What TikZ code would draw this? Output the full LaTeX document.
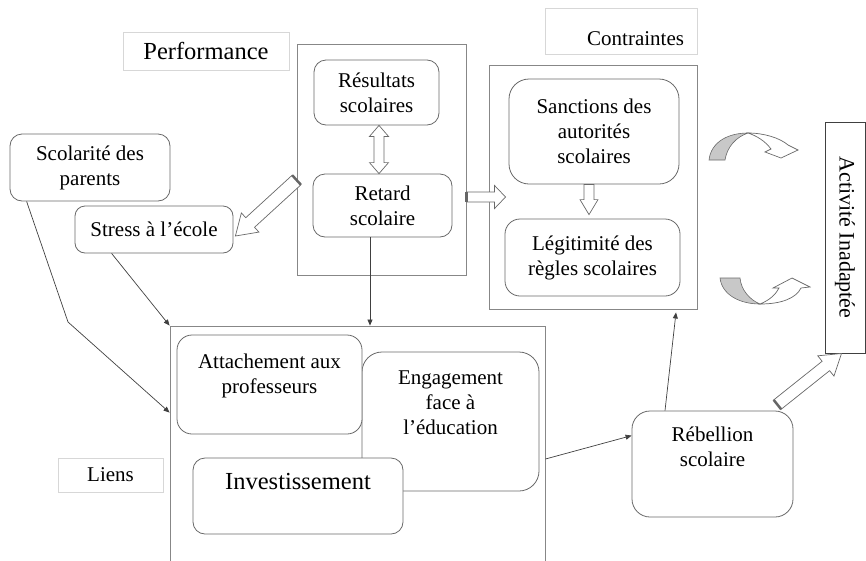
\documentclass[tikz,border=0pt]{standalone}
\usepackage{fontspec}
\setmainfont{Liberation Serif}
\usetikzlibrary{arrows.meta,calc}
\definecolor{linegray}{RGB}{105,105,105}
\definecolor{framegray}{RGB}{135,135,135}
\definecolor{labelgray}{RGB}{215,215,215}
\definecolor{shadegray}{RGB}{200,200,200}

\begin{document}
\begin{tikzpicture}[x=1pt,y=1pt,
    box/.style={draw=linegray,line width=0.8pt,rounded corners=12pt,fill=white,align=center,inner sep=0pt,font=\mainsize},
    frame/.style={draw=framegray,line width=0.9pt,inner sep=0pt},
    tag/.style={draw=labelgray,line width=0.6pt,inner sep=0pt,font=\mainsize},
    toplabel/.style={anchor=north,inner sep=0pt,align=center,font=\mainsize},
    conn/.style={draw=black!75,line width=0.7pt,-{Triangle[length=6pt,width=5pt]}},
    hollow/.style={draw=linegray,fill=white,line width=0.7pt},
    tailband/.style={draw=black!60,line width=2.5pt},
    curvefill/.style={draw=linegray,fill=shadegray,line width=0.6pt}]
    \providecommand{\mainsize}{\fontsize{21pt}{25pt}\selectfont}
    \providecommand{\bigsize}{\fontsize{24.5pt}{29pt}\selectfont}
    % start, end, shaft half width, head half width, head length, tail band
    \providecommand{\hollowarrow}[6]{%
      \path (#1) coordinate (ha-s) (#2) coordinate (ha-e);
      \path ($(ha-e)!#5pt!(ha-s)$) coordinate (ha-b);
      \draw[hollow] ($(ha-s)!#3pt!90:(ha-e)$) -- ($(ha-b)!#3pt!-90:(ha-s)$) -- ($(ha-b)!#4pt!-90:(ha-s)$) -- (ha-e)
        -- ($(ha-b)!#4pt!90:(ha-s)$) -- ($(ha-b)!#3pt!90:(ha-s)$) -- ($(ha-s)!#3pt!-90:(ha-e)$) -- cycle;
      \ifnum#6=1 \draw[tailband] ($(ha-s)!#3pt!90:(ha-e)$) -- ($(ha-s)!#3pt!-90:(ha-e)$);\fi
    }
    \providecommand{\hollowdouble}[5]{%
      \path (#1) coordinate (hd-s) (#2) coordinate (hd-e);
      \path ($(hd-s)!#5pt!(hd-e)$) coordinate (hd-a) ($(hd-e)!#5pt!(hd-s)$) coordinate (hd-b);
      \draw[hollow] (hd-s) -- ($(hd-a)!#4pt!90:(hd-e)$) -- ($(hd-a)!#3pt!90:(hd-e)$) -- ($(hd-b)!#3pt!-90:(hd-s)$)
        -- ($(hd-b)!#4pt!-90:(hd-s)$) -- (hd-e) -- ($(hd-b)!#4pt!90:(hd-s)$) -- ($(hd-b)!#3pt!90:(hd-s)$)
        -- ($(hd-a)!#3pt!-90:(hd-e)$) -- ($(hd-a)!#4pt!-90:(hd-e)$) -- cycle;
    }
    \useasboundingbox (0,0) rectangle (866,-560);

    % Performance
    \node[tag,minimum width=166,minimum height=38,font=\bigsize] (perflabel) at (206,-51) {Performance};
    \node[frame,minimum width=169,minimum height=231] (perf) at (381.5,-159.5) {};
    \node[box,minimum width=125,minimum height=65] (res) at (376.5,-92.5) {Résultats\\scolaires};
    \node[box,minimum width=139,minimum height=63] (ret) at (382.5,-205.5) {Retard\\scolaire};

    % Contraintes
    \node[tag,minimum width=152,minimum height=46,text width=126,align=right,text height=28pt,text depth=0pt] (contlabel) at (621,-31) {Contraintes};
    \node[frame,minimum width=208,minimum height=244] (cont) at (593,-187) {};
    \node[box,rounded corners=20pt,minimum width=170,minimum height=105] (sanc) at (594,-131.5) {Sanctions des\\autorités\\scolaires};
    \node[box,rounded corners=15pt,minimum width=175,minimum height=77] (legit) at (592.5,-257.5) {Légitimité des\\règles scolaires};

    \node[box,minimum width=160,minimum height=67] (scol) at (90,-167.5) {Scolarité des\\parents};
    \node[box,rounded corners=10pt,minimum width=158,minimum height=47] (stress) at (154,-229.5) {Stress à l’école};

    % Liens
    \node[tag,minimum width=105,minimum height=34] (lienlabel) at (110.5,-475) {Liens};
    \node[frame,minimum width=375,minimum height=266] (liens) at (357.5,-459) {};
    \node[box,rounded corners=20pt,minimum width=177,minimum height=139,
      label={[toplabel,yshift=-18.5pt]north:Engagement\\face à\\l’éducation}] (eng) at (450.5,-421.5) {};
    \node[box,rounded corners=15pt,minimum width=185,minimum height=99,
      label={[toplabel,yshift=-19.5pt]north:Attachement aux\\professeurs}] (att) at (269.5,-384.5) {};
    \node[box,minimum width=210,minimum height=76,
      label={[toplabel,yshift=-15pt,font=\bigsize]north:Investissement}] (inv) at (298,-496) {};

    \node[box,rounded corners=18pt,minimum width=161,minimum height=106,
      label={[toplabel,yshift=-16.5pt]north:Rébellion\\scolaire}] (reb) at (712.5,-464) {};
    \node[draw=black!75,line width=1pt,minimum width=40,minimum height=231,inner sep=0pt,font=\fontsize{22pt}{26pt}\selectfont] (act) at (845,-237.5) {\rotatebox{-90}{Activité Inadaptée}};

    % thin connectors
    \coordinate (bend) at (68,-322);
    \draw[conn] ($(scol.south west)+(17,0)$) -- (bend) -- ($(liens.north west)+(0,-87)$);
    \draw[conn] ($(stress.south west)+(37,0)$) -- (liens.north west);
    \draw[conn] ($(ret.south)+(-12.5,0)$) coordinate (rt) -- (rt |- liens.north);
    \draw[conn] (liens.east) -- ($(reb.north west)+(0,-25)$);
    \draw[conn] ($(reb.north)+(-47.5,0)$) -- ($(cont.south)+(83,-3)$);

    % block arrows
    \hollowdouble{$(res.south)+(2.5,0)$}{$(ret.north)+(-3.5,0)$}{5}{9.5}{11}
    \hollowarrow{$(sanc.south)+(-5,0)$}{$(legit.north)+(-3.5,4)$}{5}{9}{15}{0}
    \hollowarrow{$(perf.west)+(0,-20.5)$}{$(stress.east)+(2,-6.5)$}{6.5}{13}{20}{1}
    \hollowarrow{$(perf.east)+(0,-37.5)$}{$(cont.west)+(17,-10)$}{5}{11.5}{11}{1}
    \hollowarrow{$(reb.north east)+(-16,6)$}{$(act.south west)+(17,0)$}{6}{13}{20}{1}

    % curved arrows
    \filldraw[curvefill] (709,-160) .. controls (711,-142) and (728,-133) .. (748,-133) .. controls (736,-137) and (727,-147) .. (725,-160) -- cycle;
    \filldraw[hollow] (748,-133) .. controls (764,-133) and (780,-138) .. (788,-145) -- (798,-150) -- (781,-158) -- (765,-152) -- (771,-149) .. controls (765,-141) and (757,-136) .. (748,-133) -- cycle;
    \filldraw[curvefill] (720,-278) .. controls (722,-295) and (740,-304) .. (760,-304) .. controls (750,-300) and (741,-290) .. (740,-278) -- cycle;
    \filldraw[hollow] (760,-304) .. controls (770,-300) and (776,-294) .. (779,-288) -- (773,-288) -- (792,-278) -- (810,-287) -- (801,-288) .. controls (796,-298) and (782,-304) .. (760,-304) -- cycle;
\end{tikzpicture}
\end{document}
